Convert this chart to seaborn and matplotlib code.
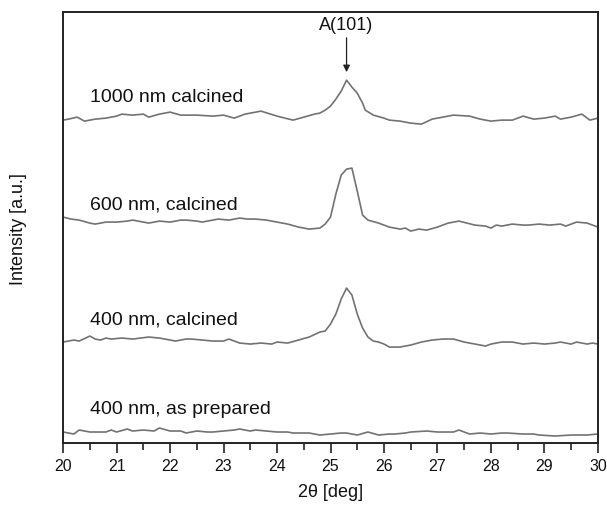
import numpy as np
import pandas as pd
import matplotlib
matplotlib.use('Agg')
import matplotlib.pyplot as plt
import seaborn as sns
from matplotlib.ticker import MultipleLocator

# XRD patterns (2theta in deg, intensity in arbitrary units)
x_1000 = [20.0, 20.1, 20.26, 20.4, 20.6, 20.8, 21.0, 21.1, 21.3, 21.5, 21.6, 21.8,
          22.0, 22.2, 22.5, 22.8, 23.0, 23.2, 23.4, 23.7, 24.0, 24.3, 24.5, 24.7,
          24.8, 24.9, 25.0, 25.1, 25.2, 25.3, 25.4, 25.5, 25.6, 25.65, 25.8, 26.0,
          26.1, 26.3, 26.5, 26.7, 26.9, 27.1, 27.3, 27.6, 27.8, 28.0, 28.2, 28.4,
          28.6, 28.8, 29.0, 29.2, 29.3, 29.5, 29.7, 29.85, 30.0]
y_1000 = [329, 330, 332, 328, 330, 331, 333, 335, 334, 335, 332, 335,
          337, 334, 334, 333, 334, 331, 335, 338, 333, 329, 332, 335,
          336, 339, 343, 350, 358, 369, 362, 356, 346, 339, 334, 331,
          329, 328, 326, 325, 330, 332, 334, 333, 330, 328, 329, 329,
          333, 330, 331, 333, 330, 332, 335, 329, 331]

x_600 = [20.0, 20.15, 20.3, 20.5, 20.6, 20.8, 21.0, 21.2, 21.3, 21.5, 21.6, 21.8,
         22.0, 22.2, 22.3, 22.5, 22.6, 22.8, 22.9, 23.1, 23.3, 23.45, 23.6, 23.8,
         24.0, 24.2, 24.4, 24.6, 24.8, 24.9, 25.0, 25.1, 25.2, 25.3, 25.4, 25.5,
         25.6, 25.7, 25.9, 26.1, 26.3, 26.4, 26.5, 26.65, 26.8, 27.0, 27.2, 27.4,
         27.55, 27.7, 27.9, 28.0, 28.1, 28.2, 28.4, 28.6, 28.7, 28.9, 29.1, 29.3,
         29.4, 29.6, 29.8, 30.0]
y_600 = [232, 230, 229, 226, 225, 227, 227, 228, 229, 227, 226, 228,
         227, 229, 229, 228, 227, 229, 230, 229, 231, 230, 230, 229,
         227, 225, 222, 220, 221, 225, 232, 255, 274, 280, 281, 258,
         234, 229, 226, 222, 220, 221, 218, 220, 219, 222, 226, 228,
         226, 224, 223, 221, 224, 223, 225, 224, 224, 225, 224, 225,
         223, 227, 226, 222]

x_400 = [20.0, 20.2, 20.3, 20.5, 20.6, 20.7, 20.8, 20.9, 21.1, 21.3, 21.6, 21.8,
         22.0, 22.1, 22.3, 22.4, 22.6, 22.8, 23.0, 23.1, 23.3, 23.5, 23.7, 23.9,
         24.0, 24.2, 24.4, 24.6, 24.8, 24.9, 25.0, 25.1, 25.2, 25.3, 25.4, 25.5,
         25.6, 25.7, 25.8, 25.9, 26.0, 26.1, 26.3, 26.5, 26.7, 26.9, 27.1, 27.3,
         27.5, 27.7, 27.9, 28.0, 28.2, 28.4, 28.6, 28.8, 29.0, 29.2, 29.3, 29.5,
         29.6, 29.8, 29.9, 30.0]
y_400 = [107, 109, 108, 113, 110, 109, 111, 110, 111, 110, 112, 111,
         109, 108, 110, 110, 109, 108, 108, 110, 106, 105, 106, 105,
         107, 106, 109, 112, 117, 118, 125, 135, 150, 161, 154, 135,
         121, 112, 108, 107, 105, 102, 102, 104, 107, 109, 110, 110,
         107, 105, 103, 105, 107, 107, 105, 106, 105, 106, 107, 105,
         107, 105, 106, 105]

x_prep = [20.0, 20.1, 20.2, 20.3, 20.5, 20.7, 20.8, 20.9, 21.0, 21.2, 21.3, 21.5,
          21.7, 21.8, 22.0, 22.2, 22.3, 22.5, 22.7, 22.8, 23.0, 23.2, 23.3, 23.5,
          23.6, 23.8, 24.0, 24.2, 24.3, 24.6, 24.8, 25.0, 25.2, 25.3, 25.5, 25.7,
          25.9, 26.1, 26.2, 26.4, 26.5, 26.8, 27.0, 27.2, 27.3, 27.4, 27.6, 27.8,
          28.0, 28.2, 28.3, 28.6, 28.8, 28.9, 29.2, 29.5, 29.8, 30.0]
y_prep = [17, 16, 15, 19, 17, 17, 17, 19, 17, 20, 18, 19,
          18, 21, 18, 18, 16, 18, 17, 17, 18, 19, 20, 18,
          19, 18, 17, 17, 16, 16, 14, 15, 16, 16, 14, 17,
          14, 15, 15, 16, 17, 18, 17, 17, 17, 19, 15, 16,
          15, 16, 16, 15, 15, 14, 13, 14, 14, 15]

labels = ['1000 nm calcined', '600 nm, calcined', '400 nm, calcined', '400 nm, as prepared']
label_y = [353, 245, 130, 41]

frames = []
for name, xs, ys in zip(labels, [x_1000, x_600, x_400, x_prep], [y_1000, y_600, y_400, y_prep]):
    frames.append(pd.DataFrame({'two_theta': xs, 'intensity': ys, 'sample': name}))
df = pd.concat(frames, ignore_index=True)

sns.set_style('ticks')
plt.rcParams['font.family'] = ['Liberation Sans', 'DejaVu Sans']

fig = plt.figure(figsize=(6.07, 5.06), dpi=100)
ax = fig.add_axes([0.104, 0.1225, 0.881, 0.8515])

line_gray = '#727272'
for name in labels:
    sub = df[df['sample'] == name]
    sns.lineplot(data=sub, x='two_theta', y='intensity', ax=ax, color=line_gray,
                 lw=1.2, sort=False, estimator=None)

for name, ly in zip(labels, label_y):
    ax.text(20.5, ly, name, fontsize=14, ha='left', va='center', color='#111111')

# peak marker
ax.annotate('A(101)', xy=(25.3, 377), xytext=(25.3, 416), ha='center', va='bottom',
            fontsize=13, color='#111111',
            arrowprops=dict(arrowstyle='-|>', color='#222222', lw=0.9,
                            mutation_scale=10, shrinkA=1, shrinkB=0))

ax.set_xlim(20, 30)
ax.set_ylim(6, 437)
ax.xaxis.set_major_locator(MultipleLocator(1))
ax.xaxis.set_minor_locator(MultipleLocator(0.5))
ax.set_yticks([])
ax.tick_params(axis='x', which='major', direction='out', length=7, width=1.2,
               labelsize=11.5, pad=4, color='#222222', labelcolor='#111111')
ax.tick_params(axis='x', which='minor', direction='out', length=5, width=1.2, color='#222222')
for sp in ax.spines.values():
    sp.set_visible(True)
    sp.set_linewidth(1.4)
    sp.set_color('#222222')

ax.set_xlabel('2θ [deg]', fontsize=13, labelpad=7, color='#111111')
ax.set_ylabel('Intensity [a.u.]', fontsize=13, labelpad=26, color='#111111')

fig.savefig('out.png', dpi=100, facecolor='white')
